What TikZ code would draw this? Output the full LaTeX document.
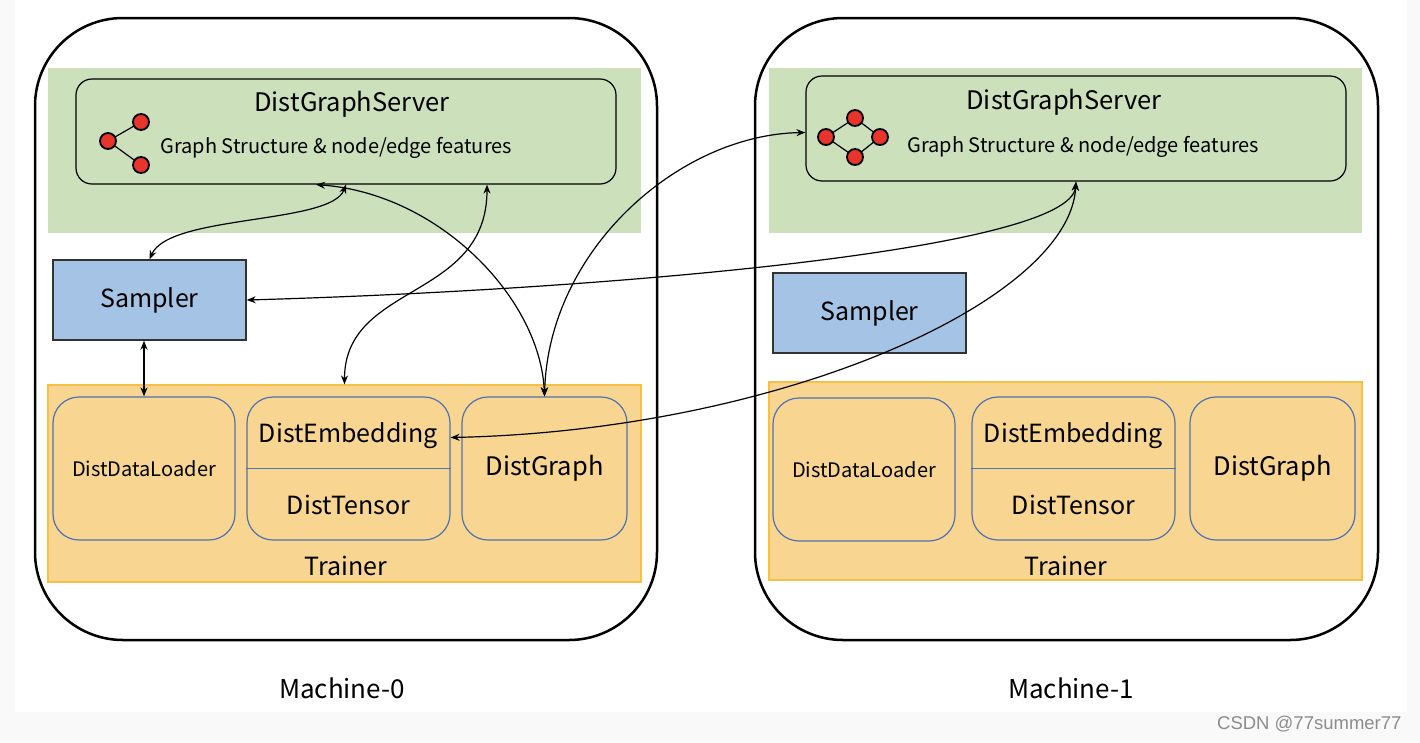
\documentclass[tikz,border=0pt]{standalone}
\usepackage{fontspec}
\setmainfont{Noto Sans CJK SC}
\newfontfamily\filigrane{Liberation Sans}
\usepackage{tikz}
\usetikzlibrary{arrows.meta}
\definecolor{VertFond}{RGB}{204,224,187}
\definecolor{BleuSampler}{RGB}{165,195,228}
\definecolor{OrangeFond}{RGB}{248,214,145}
\definecolor{OrangeBord}{RGB}{245,192,67}
\definecolor{BleuBord}{RGB}{79,114,176}
\definecolor{RougeSommet}{RGB}{232,53,43}
\definecolor{GrisFond}{RGB}{249,249,249}
\tikzset{
Machine/.style={
 draw=black, 
 line width=2.5pt, 
 fill=white, 
 rounded corners=88pt, 
 inner sep=0pt
 },
Bande/.style={
 fill=#1, 
 inner sep=0pt
 },
Serveur/.style={
 draw=black, 
 line width=1.2pt, 
 rounded corners=16pt, 
 inner sep=0pt
 },
Sampler/.style={
 draw=black!80, 
 line width=1.4pt, 
 fill=BleuSampler, 
 minimum width=193pt, 
 minimum height=80pt, 
 font=\fontsize{25}{29}\selectfont
 },
Module/.style={
 draw=BleuBord, 
 line width=1.2pt, 
 fill=OrangeFond, 
 rounded corners=26pt, 
 minimum height=143pt, 
 inner sep=0pt
 },
Sommet/.style={
 circle, 
 draw=black, 
 line width=1.8pt, 
 fill=RougeSommet, 
 minimum size=16pt, 
 inner sep=0pt
 },
Liaison/.style={
 draw=black, 
 line width=1.2pt, 
 <->, 
 >={Stealth[length=9pt,width=7pt]}
 },
Titre/.style={font=\fontsize{25.5}{30}\selectfont},
SousTitre/.style={font=\fontsize{20}{24}\selectfont, anchor=west},
Etiquette/.style={font=\fontsize{25}{29}\selectfont}
}
\begin{document}
\begin{tikzpicture}[x=1pt,y=-1pt]
\useasboundingbox (0,0) rectangle (1420,742);
\fill[GrisFond] (0,0) rectangle (1420,742);
\fill[white] (15,0) rectangle (1407,712);
% les deux machines
\node[Machine, minimum width=622pt, minimum height=622pt] (m0) at (346,329) {};
\node[Machine, minimum width=623pt, minimum height=622pt] (m1) at (1066.5,329) {};
\node[Etiquette, font=\fontsize{26}{30}\selectfont] (nom0) at (342,688) {Machine-0};
\node[Etiquette, font=\fontsize{26}{30}\selectfont] (nom1) at (1071,688) {Machine-1};
% serveurs
\node[Bande=VertFond, minimum width=593pt, minimum height=165pt] (vert0) at (344.5,150.5) {};
\node[Bande=VertFond, minimum width=593pt, minimum height=165pt] (vert1) at (1065.5,150.5) {};
\node[Serveur, minimum width=540pt, minimum height=105pt] (dgs0) at (346,131.5) {};
\node[Serveur, minimum width=540pt, minimum height=105pt] (dgs1) at (1076,128.5) {};
\node[Titre] (titre0) at (352,104) {DistGraphServer};
\node[Titre] (titre1) at (1064,102) {DistGraphServer};
\node[SousTitre] (feat0) at (157,148) {Graph Structure \& node/edge features};
\node[SousTitre] (feat1) at (904,147) {Graph Structure \& node/edge features};
% petits graphes
\draw[line width=1.2pt] (108,141) -- (141,122) (108,141) -- (141,165);
\node[Sommet] (a0) at (108,141) {};
\node[Sommet] (b0) at (141,122) {};
\node[Sommet] (c0) at (141,165) {};
\draw[line width=1.2pt] (826,137) -- (855,118) -- (880,137) -- (855,157) -- cycle;
\node[Sommet] (a1) at (826,137) {};
\node[Sommet] (b1) at (855,118) {};
\node[Sommet] (c1) at (880,137) {};
\node[Sommet] (d1) at (855,157) {};
% samplers
\node[Sampler] (samp0) at (149.5,300) {Sampler};
\node[Sampler] (samp1) at (869.5,313) {Sampler};
% trainers
\node[Bande=OrangeFond, draw=OrangeBord, line width=1.2pt, minimum width=593pt, minimum height=197pt] (tr0) at (344.5,483.5) {};
\node[Bande=OrangeFond, draw=OrangeBord, line width=1.2pt, minimum width=593pt, minimum height=198pt] (tr1) at (1065.5,481) {};
\node[Etiquette] (trn0) at (346,566) {Trainer};
\node[Etiquette] (trn1) at (1066,566) {Trainer};
\node[Module, minimum width=182pt, font=\fontsize{20}{24}\selectfont] (dl0) at (144,468.5) {DistDataLoader};
\node[Module, minimum width=203pt] (emb0) at (348.5,468.5) {};
\node[Module, minimum width=165pt, font=\fontsize{25.5}{30}\selectfont] (graphe0) at (544.5,468.5) {DistGraph};
\node[Module, minimum width=182pt, font=\fontsize{20}{24}\selectfont] (dl1) at (864,469.5) {DistDataLoader};
\node[Module, minimum width=203pt] (emb1) at (1073.5,468.5) {};
\node[Module, minimum width=165pt, font=\fontsize{25.5}{30}\selectfont] (graphe1) at (1272.5,468.5) {DistGraph};
\draw[BleuBord, line width=1.2pt] (emb0.west) -- (emb0.east);
\draw[BleuBord, line width=1.2pt] (emb1.west) -- (emb1.east);
\node[Etiquette] (e0) at (348.5,436) {DistEmbedding};
\node[Etiquette] (t0) at (348.5,505) {DistTensor};
\node[Etiquette] (e1) at (1073.5,436) {DistEmbedding};
\node[Etiquette] (t1) at (1073.5,505) {DistTensor};
% liaisons
\draw[Liaison] (dgs0.south) .. controls +(-15,40) and +(20,-45) .. (samp0.north);
\draw[Liaison] (tr0.north) .. controls +(0,-102) and +(0,116) .. ([xshift=141pt]dgs0.south);
\draw[Liaison] (graphe0.north) .. controls +(-4,-97) and +(124,9) .. ([xshift=-30pt]dgs0.south);
\draw[Liaison] (graphe0.north) .. controls +(4,-147) and +(-126,2) .. ([yshift=-4pt]dgs1.west);
\draw[Liaison] (samp0.east) .. controls +(352,-10) and +(-6,69) .. (dgs1.south);
\draw[Liaison] ([yshift=31pt]emb0.east) .. controls +(330,-7) and +(-6,119) .. (dgs1.south);
\draw[Liaison, line width=2.5pt] (samp0.south -| dl0.north) -- (dl0.north);
\node[font=\filigrane\fontsize{18.5}{20}\selectfont, text=black!45, anchor=east] (csdn) at (1405,724) {CSDN @77summer77};
\end{tikzpicture}
\end{document}
